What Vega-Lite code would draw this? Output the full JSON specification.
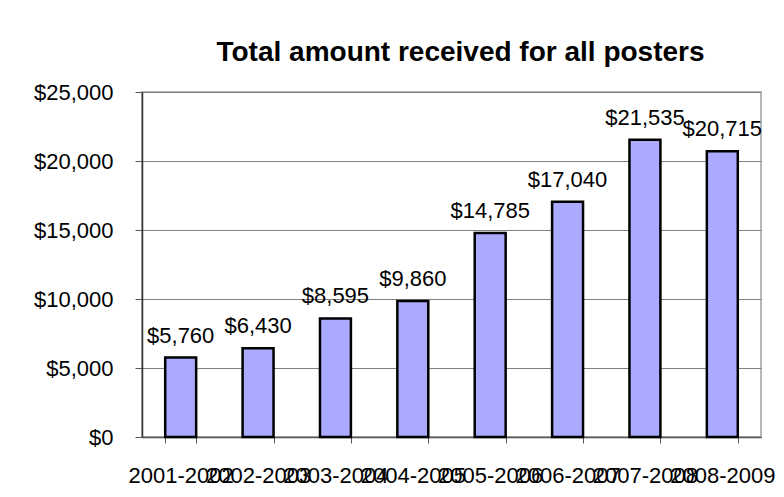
{
  "$schema": "https://vega.github.io/schema/vega-lite/v6.json",
  "width": 619,
  "height": 345,
  "autosize": {"type": "none"},
  "padding": {"left": 142, "top": 92, "right": 23, "bottom": 60},
  "background": "white",
  "title": {
    "text": "Total amount received for all posters",
    "font": "Liberation Sans",
    "fontSize": 28,
    "fontWeight": "bold",
    "color": "black",
    "anchor": "middle",
    "frame": "group",
    "baseline": "alphabetic",
    "offset": 19,
    "dx": 9,
    "dy": 27
  },
  "data": {
    "values": [
      {"year": "2001-2002", "amount": 5760},
      {"year": "2002-2003", "amount": 6430},
      {"year": "2003-2004", "amount": 8595},
      {"year": "2004-2005", "amount": 9860},
      {"year": "2005-2006", "amount": 14785},
      {"year": "2006-2007", "amount": 17040},
      {"year": "2007-2008", "amount": 21535},
      {"year": "2008-2009", "amount": 20715}
    ]
  },
  "encoding": {
    "x": {
      "field": "year",
      "type": "nominal",
      "sort": null,
      "scale": {"paddingInner": 0.6, "paddingOuter": 0.3},
      "axis": {
        "title": null,
        "labelAngle": 0,
        "labelOverlap": false,
        "labelBound": false,
        "labelFlush": false,
        "labelFont": "Liberation Sans",
        "labelFontSize": 22,
        "labelColor": "black",
        "labelPadding": 22,
        "tickBand": "extent",
        "tickSize": 6,
        "tickColor": "#555555",
        "domainColor": "#555555",
        "domainWidth": 1.5,
        "grid": false
      }
    },
    "y": {
      "field": "amount",
      "type": "quantitative",
      "scale": {"domain": [0, 25000], "nice": false},
      "axis": {
        "title": null,
        "values": [0, 5000, 10000, 15000, 20000, 25000],
        "format": "$,.0f",
        "labelFont": "Liberation Sans",
        "labelFontSize": 22,
        "labelColor": "black",
        "labelPadding": 22,
        "tickSize": 7,
        "tickColor": "#555555",
        "domainColor": "#333333",
        "domainWidth": 1.5,
        "grid": true,
        "gridColor": "#808080",
        "gridWidth": 1
      }
    }
  },
  "layer": [
    {
      "mark": {"type": "bar", "fill": "#AAAAFF", "stroke": "black", "strokeWidth": 2.5}
    },
    {
      "mark": {
        "type": "text",
        "baseline": "alphabetic",
        "align": "center",
        "dy": -15,
        "font": "Liberation Sans",
        "fontSize": 22,
        "color": "black"
      },
      "encoding": {
        "text": {"field": "amount", "type": "quantitative", "format": "$,.0f"}
      }
    }
  ],
  "config": {
    "view": {"stroke": "#A0A0A0", "strokeWidth": 1.5}
  }
}
